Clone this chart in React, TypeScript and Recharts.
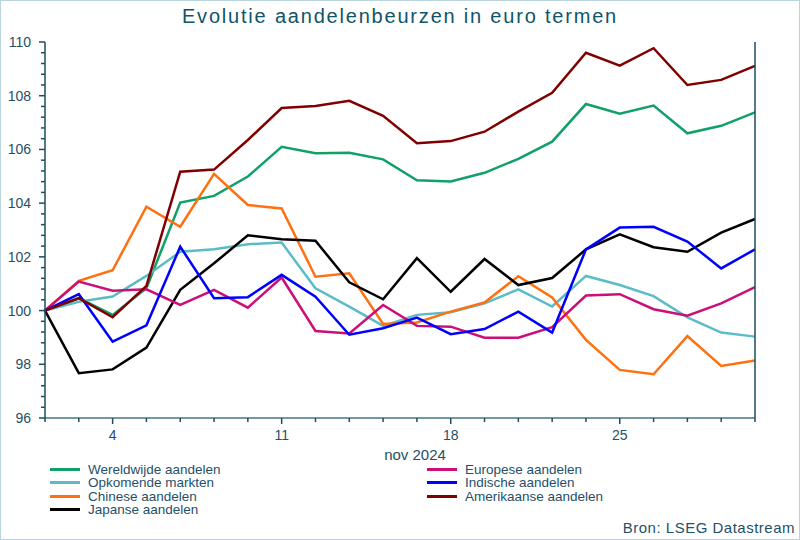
import { LineChart, Line, XAxis, YAxis } from "recharts";

const dates = [
  "2024-10-31", "2024-11-01", "2024-11-04", "2024-11-05", "2024-11-06", "2024-11-07",
  "2024-11-08", "2024-11-11", "2024-11-12", "2024-11-13", "2024-11-14", "2024-11-15",
  "2024-11-18", "2024-11-19", "2024-11-20", "2024-11-21", "2024-11-22", "2024-11-25",
  "2024-11-26", "2024-11-27", "2024-11-28", "2024-11-29",
];

const wereldwijde = [100, 100.46, 99.84, 100.83, 104.02, 104.27, 104.99, 106.1, 105.86, 105.88, 105.63, 104.85, 104.81, 105.13, 105.65, 106.29, 107.69, 107.33, 107.63, 106.6, 106.88, 107.38];
const europese = [100, 101.08, 100.74, 100.79, 100.21, 100.77, 100.11, 101.23, 99.24, 99.15, 100.21, 99.43, 99.4, 98.99, 98.99, 99.38, 100.56, 100.61, 100.05, 99.81, 100.27, 100.87];
const opkomende = [100, 100.33, 100.52, 101.29, 102.19, 102.28, 102.47, 102.53, 100.83, 100.15, 99.43, 99.84, 99.94, 100.27, 100.79, 100.15, 101.29, 100.95, 100.54, 99.75, 99.18, 99.03];
const indische = [100, 100.61, 98.84, 99.45, 102.38, 100.46, 100.5, 101.33, 100.52, 99.1, 99.34, 99.74, 99.12, 99.31, 99.96, 99.18, 102.28, 103.09, 103.12, 102.57, 101.57, 102.28];
const chinese = [100, 101.11, 101.5, 103.87, 103.12, 105.09, 103.93, 103.8, 101.26, 101.39, 99.5, 99.56, 99.96, 100.3, 101.28, 100.49, 98.91, 97.79, 97.63, 99.05, 97.94, 98.14];
const amerikaanse = [100, 100.46, 99.75, 100.92, 105.17, 105.25, 106.35, 107.54, 107.62, 107.81, 107.25, 106.23, 106.31, 106.66, 107.41, 108.11, 109.6, 109.12, 109.77, 108.4, 108.59, 109.11];
const japanse = [100, 97.67, 97.81, 98.62, 100.77, 101.76, 102.8, 102.66, 102.6, 101.05, 100.42, 101.95, 100.7, 101.92, 100.95, 101.21, 102.28, 102.84, 102.36, 102.19, 102.9, 103.41];

const majorDays = [4, 11, 18, 25];

// legend order: two columns, row by row
const series = [
  { key: "w", name: "Wereldwijde aandelen", color: "#10a068", values: wereldwijde },
  { key: "e", name: "Europese aandelen", color: "#cc0f78", values: europese },
  { key: "o", name: "Opkomende markten", color: "#5bbcc8", values: opkomende },
  { key: "i", name: "Indische aandelen", color: "#0000ff", values: indische },
  { key: "c", name: "Chinese aandelen", color: "#ff7010", values: chinese },
  { key: "a", name: "Amerikaanse aandelen", color: "#800000", values: amerikaanse },
  { key: "j", name: "Japanse aandelen", color: "#000000", values: japanse },
];

const drawOrder = ["w", "o", "c", "j", "e", "i", "a"];

const data = dates.map((d, i) => {
  const row: any = { date: d };
  series.forEach((s) => (row[s.key] = s.values[i]));
  return row;
});

const yTicks: number[] = [];
for (let i = 0; i <= 35; i++) yTicks.push(Math.round((96 + i * 0.4) * 10) / 10);

const FONT = "'Liberation Sans', Arial, sans-serif";
const TEXT = "#1f5068";
const YAXIS = "#1d4d62";
const XAXIS = "#7499a4";

const YTick = (props: any) => {
  const { x, y, payload, side } = props;
  const v = payload.value;
  const major = Math.abs(v - Math.round(v)) < 1e-6 && Math.round(v) % 2 === 0;
  const dir = side === "left" ? -1 : 1;
  const len = major ? 6 : 4;
  return (
    <g>
      <line x1={x} x2={x + dir * len} y1={y} y2={y} stroke={YAXIS} strokeWidth={1.5} />
      {major && (
        <text
          x={x + dir * 14}
          y={y + 5}
          textAnchor={side === "left" ? "end" : "start"}
          fontSize={14}
          fontFamily={FONT}
          fill={TEXT}
        >
          {Math.round(v)}
        </text>
      )}
    </g>
  );
};

const XTick = (props: any) => {
  const { x, y, payload } = props;
  const day = parseInt(String(payload.value).slice(8), 10);
  const major = majorDays.includes(day);
  return (
    <g>
      <line x1={x} x2={x} y1={y} y2={y + (major ? 6 : 4)} stroke={YAXIS} strokeWidth={1.5} />
      {major && (
        <text x={x} y={y + 22} textAnchor="middle" fontSize={14} fontFamily={FONT} fill={TEXT}>
          {day}
        </text>
      )}
    </g>
  );
};

export default function App() {
  return (
    <div
      style={{
        position: "absolute",
        left: 0,
        top: 0,
        width: 800,
        height: 540,
        background: "#fff",
        fontFamily: FONT,
      }}
    >
      <div
        style={{
          position: "absolute",
          left: 0,
          top: 0,
          width: 800,
          height: 540,
          boxSizing: "border-box",
          border: "1px solid #b9d4de",
          pointerEvents: "none",
        }}
      />
      <div
        style={{
          position: "absolute",
          top: 5,
          width: 800,
          textAlign: "center",
          fontSize: 20,
          letterSpacing: 1.8,
          color: "#0f5468",
        }}
      >
        Evolutie aandelenbeurzen in euro termen
      </div>
      <LineChart width={800} height={540} data={data} margin={{ top: 42, right: 5, bottom: 92, left: 5 }}>
        <XAxis
          dataKey="date"
          interval={0}
          tickSize={0}
          tickMargin={0}
          height={30}
          axisLine={{ stroke: XAXIS, strokeWidth: 2 }}
          tick={<XTick />}
        />
        <YAxis
          yAxisId="left"
          orientation="left"
          width={40}
          domain={[96, 110]}
          ticks={yTicks}
          interval={0}
          tickSize={0}
          tickMargin={0}
          axisLine={{ stroke: YAXIS, strokeWidth: 1.5 }}
          tick={<YTick side="left" />}
        />
        <YAxis
          yAxisId="right"
          orientation="right"
          width={40}
          domain={[96, 110]}
          ticks={yTicks}
          interval={0}
          tickSize={0}
          tickMargin={0}
          axisLine={{ stroke: YAXIS, strokeWidth: 1.5 }}
          tick={<YTick side="right" />}
        />
        {drawOrder.map((k) => {
          const s = series.find((x) => x.key === k)!;
          return (
            <Line
              key={s.key}
              yAxisId="left"
              type="linear"
              dataKey={s.key}
              name={s.name}
              stroke={s.color}
              strokeWidth={2.5}
              dot={false}
              activeDot={false}
              isAnimationActive={false}
            />
          );
        })}
      </LineChart>
      <div
        style={{
          position: "absolute",
          left: 0,
          top: 446,
          width: 830,
          textAlign: "center",
          fontSize: 15,
          color: TEXT,
        }}
      >
        nov 2024
      </div>
      {series.map((s, i) => {
        const col = i % 2;
        const row = Math.floor(i / 2);
        return (
          <div
            key={s.key}
            style={{
              position: "absolute",
              left: col === 0 ? 50 : 427,
              top: 462 + row * 13.5,
              height: 14,
              display: "flex",
              alignItems: "center",
              fontSize: 13.5,
              color: TEXT,
              whiteSpace: "nowrap",
            }}
          >
            <span style={{ display: "inline-block", width: 30, height: 3, background: s.color, marginRight: 8 }} />
            {s.name}
          </div>
        );
      })}
      <div
        style={{
          position: "absolute",
          right: 5,
          top: 519,
          fontSize: 15,
          letterSpacing: 0.5,
          color: TEXT,
        }}
      >
        Bron: LSEG Datastream
      </div>
    </div>
  );
}
